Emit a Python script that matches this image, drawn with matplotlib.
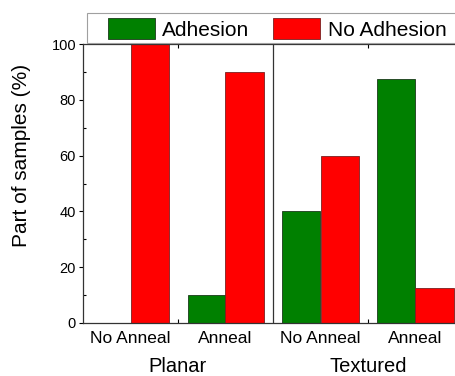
import numpy as np
import matplotlib
matplotlib.use("Agg")
import matplotlib.pyplot as plt
from matplotlib.ticker import MultipleLocator, FixedLocator
from matplotlib.patches import Rectangle

plt.rcParams['font.family'] = ['Liberation Sans', 'DejaVu Sans']

# data
conditions = ["No Anneal", "Anneal", "No Anneal", "Anneal"]
groups = ["Planar", "Textured"]
adhesion = [0, 10, 40, 87.5]
no_adhesion = [100, 90, 60, 12.5]

fig = plt.figure(figsize=(4.56, 3.76), dpi=100)
# axes runs past the right edge of the picture, like the cropped original
ax = fig.add_axes([83 / 456, 1 - 323 / 376, 380 / 456, 279 / 376])

x = np.arange(len(conditions)) + 0.5
w = 0.4
ax.bar(x - w / 2, adhesion, w, color="#008000", edgecolor="#1a3a1a",
       linewidth=0.6, label="Adhesion")
ax.bar(x + w / 2, no_adhesion, w, color="#ff0000", edgecolor="#7a2020",
       linewidth=0.6, label="No Adhesion")

ax.set_xlim(0, 4)
ax.set_ylim(0, 100)
ax.axvline(2, color="#333333", lw=0.9)

ax.set_xticks(x)
ax.set_xticklabels(conditions, fontsize=12.5)
ax.xaxis.set_minor_locator(FixedLocator([1, 3]))
ax.tick_params(axis="x", which="major", length=0, pad=6)
ax.tick_params(axis="x", which="minor", direction="in", length=3,
               top=True, bottom=True, width=0.8)

ax.yaxis.set_major_locator(MultipleLocator(20))
ax.yaxis.set_minor_locator(MultipleLocator(10))
ax.tick_params(axis="y", which="major", direction="out", length=3,
               labelsize=10.5, pad=2, width=0.8)
ax.tick_params(axis="y", which="minor", direction="in", length=2, width=0.8)

for s in ax.spines.values():
    s.set_color("#333333")
    s.set_linewidth(0.9)

fig.text(22 / 456, 1 - 155 / 376, "Part of samples (%)", rotation=90,
         fontsize=15, ha="center", va="center")

for g, cx in zip(groups, [1, 3]):
    ax.text(cx, -0.155, g, transform=ax.get_xaxis_transform(),
            fontsize=14.5, ha="center", va="center")

# legend box drawn by hand so it can run off the right edge
fig.patches.append(Rectangle((87 / 456, 1 - 43 / 376), 380 / 456, 30 / 376,
                             transform=fig.transFigure, facecolor="white",
                             edgecolor="#a0a0a0", linewidth=0.8))
fig.legend(loc="center left", bbox_to_anchor=(108 / 456, 1 - 29 / 376),
           ncol=2, fontsize=15, frameon=False,
           handlelength=2.25, handleheight=1.15, handletextpad=0.35,
           columnspacing=1.15, borderpad=0, borderaxespad=0)

fig.savefig("out.png", dpi=100)
